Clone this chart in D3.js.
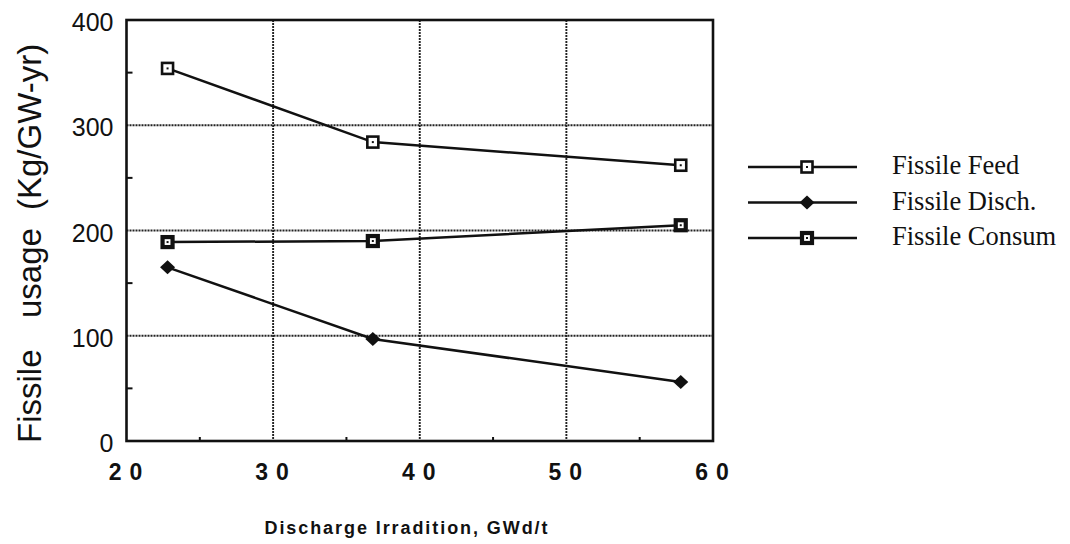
<!DOCTYPE html>
<html>
<head>
<meta charset="utf-8">
<script src="https://cdn.jsdelivr.net/npm/d3@7"></script>
<style>
  html, body { margin: 0; padding: 0; background: #fff; }
  svg { display: block; }
</style>
</head>
<body>
<svg id="chart" width="1070" height="544"></svg>
<script>
// Discharge irradiation (GWd/t) at each calculated point
const irradiation = [22.8, 36.8, 57.8];

// Fissile material flows (kg per GW-year)
const fissileFeed   = [354, 284, 262];
const fissileDisch  = [165, 97, 56];
const fissileConsum = [189, 190, 205];

const seriesNames = ["Fissile Feed", "Fissile Disch.", "Fissile Consum"];

const xTicks = [20, 30, 40, 50, 60];
const yTicks = [0, 100, 200, 300, 400];
const xMinorTicks = [25, 35, 45, 55];
const yMinorTicks = [50, 150, 250, 350];

const yTitleWords = ["Fissile", "usage", "(Kg/GW-yr)"];

const svg = d3.select("#chart");
const W = 1070, H = 544;
svg.append("rect").attr("width", W).attr("height", H).attr("fill", "#fff");

const plot = { left: 126.5, right: 713, top: 20, bottom: 441 };

const x = d3.scaleLinear().domain([20, 60]).range([plot.left, plot.right]);
const y = d3.scaleLinear().domain([0, 400]).range([plot.bottom, plot.top]);

const ink = "#111";
const sans = "'Liberation Sans', Arial, Helvetica, sans-serif";

// Dotted grid
const grid = svg.append("g").attr("stroke", "#222").attr("stroke-width", 1.9)
  .attr("stroke-dasharray", "2,1");
grid.selectAll("line.gx").data(xTicks.slice(1, -1)).join("line")
  .attr("x1", d => x(d)).attr("x2", d => x(d))
  .attr("y1", plot.top).attr("y2", plot.bottom);
grid.selectAll("line.gy").data(yTicks.slice(1, -1)).join("line")
  .attr("y1", d => y(d)).attr("y2", d => y(d))
  .attr("x1", plot.left).attr("x2", plot.right);

// Minor ticks, pointing inward
svg.append("g").selectAll("line").data(yMinorTicks).join("line")
  .attr("x1", plot.left).attr("x2", plot.left + 6)
  .attr("y1", d => y(d)).attr("y2", d => y(d))
  .attr("stroke", ink).attr("stroke-width", 2);
svg.append("g").selectAll("line").data(xMinorTicks).join("line")
  .attr("x1", d => x(d)).attr("x2", d => x(d))
  .attr("y1", plot.bottom).attr("y2", plot.bottom - 4)
  .attr("stroke", ink).attr("stroke-width", 2);

// Frame
svg.append("rect")
  .attr("x", plot.left).attr("y", plot.top)
  .attr("width", plot.right - plot.left).attr("height", plot.bottom - plot.top)
  .attr("fill", "none").attr("stroke", ink).attr("stroke-width", 2.6);

// Y tick labels
svg.append("g").selectAll("text").data(yTicks).join("text")
  .attr("x", plot.left - 13).attr("y", d => y(d) + 11)
  .attr("text-anchor", "end")
  .attr("font-family", sans)
  .attr("font-size", 25).attr("fill", ink)
  .text(d => d);

// X tick labels (spaced digits)
const xLabelSpacing = 8;
svg.append("g").selectAll("text").data(xTicks).join("text")
  .attr("x", d => x(d) - 1 + xLabelSpacing / 2).attr("y", 480)
  .attr("text-anchor", "middle")
  .attr("font-family", sans)
  .attr("font-weight", "bold")
  .attr("font-size", 23).attr("fill", ink)
  .style("letter-spacing", xLabelSpacing + "px")
  .text(d => d);

// X axis title
svg.append("text")
  .attr("x", 406).attr("y", 534)
  .attr("text-anchor", "middle")
  .attr("font-family", sans)
  .attr("font-weight", "bold").attr("font-size", 18).attr("fill", ink)
  .attr("textLength", 283).attr("lengthAdjust", "spacing")
  .text("Discharge Irradition, GWd/t");

// Y axis title: words set with wide gaps, reading bottom to top
const yTitle = svg.append("text")
  .attr("transform", "translate(41,0) rotate(-90)")
  .attr("font-family", sans)
  .attr("font-size", 33).attr("fill", ink);
const yTitleStarts = [443, 318, 210];
yTitle.selectAll("tspan").data(yTitleWords).join("tspan")
  .attr("x", (d, i) => -yTitleStarts[i]).attr("y", 0)
  .text(d => d);

// Series
const series = [
  { name: seriesNames[0], values: fissileFeed,   marker: "openSquare" },
  { name: seriesNames[1], values: fissileDisch,  marker: "diamond" },
  { name: seriesNames[2], values: fissileConsum, marker: "heavySquare" }
];

const line = d3.line().x(d => x(d[0])).y(d => y(d[1]));

function drawMarker(g, kind, cx, cy) {
  if (kind === "openSquare") {
    g.append("rect").attr("x", cx - 5.5).attr("y", cy - 5.5)
      .attr("width", 11).attr("height", 11)
      .attr("fill", "#fff").attr("stroke", ink).attr("stroke-width", 2.6);
    g.append("rect").attr("x", cx - 1).attr("y", cy - 1)
      .attr("width", 2).attr("height", 2).attr("fill", ink);
  } else if (kind === "heavySquare") {
    g.append("rect").attr("x", cx - 5).attr("y", cy - 5)
      .attr("width", 10).attr("height", 10)
      .attr("fill", "#fff").attr("stroke", ink).attr("stroke-width", 4.2);
    g.append("rect").attr("x", cx - 1).attr("y", cy - 1)
      .attr("width", 2).attr("height", 2).attr("fill", ink);
  } else {
    const hw = 7.5, hh = 7;
    g.append("path")
      .attr("d", `M${cx - hw},${cy}L${cx},${cy - hh}L${cx + hw},${cy}L${cx},${cy + hh}Z`)
      .attr("fill", ink);
  }
}

series.forEach(s => {
  const pts = irradiation.map((xv, i) => [xv, s.values[i]]);
  svg.append("path").datum(pts)
    .attr("d", line).attr("fill", "none")
    .attr("stroke", ink).attr("stroke-width", 2.5);
  const g = svg.append("g");
  pts.forEach(p => drawMarker(g, s.marker, x(p[0]), y(p[1])));
});

// Legend
const legend = svg.append("g");
series.forEach((s, i) => {
  const ly = 167 + i * 35.5;
  legend.append("line").attr("x1", 748).attr("x2", 857)
    .attr("y1", ly).attr("y2", ly)
    .attr("stroke", ink).attr("stroke-width", 2.5);
  drawMarker(legend, s.marker, 807, ly);
  legend.append("text")
    .attr("x", 892).attr("y", ly + 7)
    .attr("font-family", "'Liberation Serif', 'Times New Roman', serif")
    .attr("font-size", 26.5).attr("fill", ink)
    .text(s.name);
});
</script>
</body>
</html>
